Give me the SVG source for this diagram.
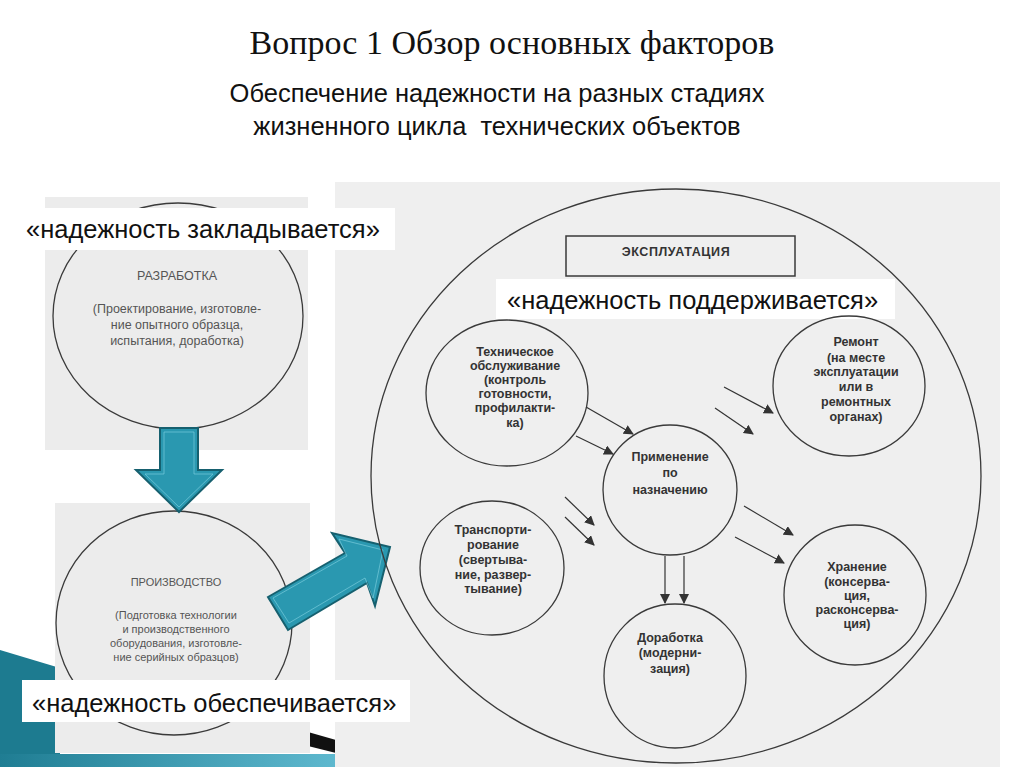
<svg xmlns="http://www.w3.org/2000/svg" width="1024" height="767" viewBox="0 0 1024 767">
<defs>
<style>
.title{font-family:"Liberation Serif","Times New Roman",serif;font-size:34px;fill:#111}
.sub{font-family:"Liberation Sans",Arial,sans-serif;font-size:25.5px;fill:#111}
.lbl{font-family:"Liberation Sans",Arial,sans-serif;font-size:25.5px;fill:#111}
.scan{fill:none;stroke:#3a3a3a;stroke-width:1.3}
.st{font-family:"Liberation Sans",Arial,sans-serif;font-size:12.5px;font-weight:bold;fill:#333;text-anchor:middle}
.lt{font-family:"Liberation Sans",Arial,sans-serif;font-size:12.5px;fill:#555;text-anchor:middle}
.lb{font-family:"Liberation Sans",Arial,sans-serif;font-size:11px;fill:#555;text-anchor:middle}
.con{stroke:#333;stroke-width:1.2;fill:none;marker-end:url(#ah)}
.teal{fill:#2a98b0;stroke:#16606f;stroke-width:2;stroke-linejoin:miter}
.tealin{fill:none;stroke:#7fd0e0;stroke-width:0.8;opacity:0.8}
</style>
<marker id="ah" viewBox="0 0 10 10" refX="9" refY="5" markerWidth="10" markerHeight="10" markerUnits="userSpaceOnUse" orient="auto">
<path d="M0,0 L10,5 L0,10 z" fill="#333"/>
</marker>
<linearGradient id="band" x1="0" y1="0" x2="1" y2="0">
<stop offset="0" stop-color="#1f7d93"/>
<stop offset="1" stop-color="#5fb9cf"/>
</linearGradient>
</defs>
<rect width="1024" height="767" fill="#ffffff"/>
<!-- background decoration -->
<polygon points="0,650 60,668 60,767 0,767" fill="#1d7b90"/>
<rect x="0" y="754" width="340" height="13" fill="url(#band)"/>
<polygon points="308,732 336,740 336,753 308,746" fill="#111"/>
<!-- title -->
<text class="title" x="512" y="54" text-anchor="middle">Вопрос 1 Обзор основных факторов</text>
<text class="sub" x="497" y="102" text-anchor="middle">Обеспечение надежности на разных стадиях</text>
<text class="sub" x="497" y="135" text-anchor="middle" xml:space="preserve">жизненного цикла  технических объектов</text>
<!-- scan backgrounds -->
<rect x="45" y="197" width="263" height="253" fill="#ececec"/>
<rect x="55" y="503" width="255" height="250" fill="#ececec"/>
<rect x="335" y="182" width="665" height="585" fill="#efefef"/>
<!-- Development -->
<g id="razrabotka">
<ellipse class="scan" cx="178" cy="316" rx="125" ry="113"/>
<text class="lt" x="177" y="280">РАЗРАБОТКА</text>
<text class="lt" x="177" y="313">(Проектирование, изготовле-</text>
<text class="lt" x="177" y="329">ние опытного образца,</text>
<text class="lt" x="177" y="345">испытания, доработка)</text>
</g>
<g id="label-zakl">
<rect x="22" y="208" width="373" height="42" fill="#ffffff"/>
<text class="lbl" x="26" y="238">«надежность закладывается»</text>
</g>
<!-- Production -->
<g id="proizvodstvo">
<ellipse class="scan" cx="174" cy="623" rx="118" ry="112"/>
<text class="lb" x="176" y="586">ПРОИЗВОДСТВО</text>
<text class="lb" x="176" y="619">(Подготовка технологии</text>
<text class="lb" x="176" y="633">и производственного</text>
<text class="lb" x="176" y="647">оборудования, изготовле-</text>
<text class="lb" x="176" y="661">ние серийных образцов)</text>
</g>
<g id="label-obesp">
<rect x="22" y="680" width="388" height="42" fill="#ffffff"/>
<text class="lbl" x="32" y="712">«надежность обеспечивается»</text>
</g>
<!-- teal arrows -->
<g id="arrow-down">
<polygon class="teal" points="160,428 198,428 198,470 222,470 179,512 136,470 160,470"/>
<polygon class="tealin" points="164,432 194,432 194,474 213,474 179,507 145,474 164,474"/>
</g>
<g id="arrow-right">
<polygon class="teal" points="268,597 345,553 332,533 390,547 375,606 367,583 288,630"/>
<polygon class="tealin" points="273,598 347,556 339,539 383,550 373,598 365,578 289,623"/>
</g>
<!-- Exploitation -->
<g id="ekspluatatsiya">
<ellipse class="scan" cx="676" cy="476" rx="305" ry="287"/>
<rect x="566" y="236" width="229" height="40" fill="none" stroke="#3a3a3a" stroke-width="1.5"/>
<text class="st" x="676" y="256" font-size="13" letter-spacing="0.6">ЭКСПЛУАТАЦИЯ</text>
</g>
<g id="label-podd">
<rect x="496" y="279" width="399" height="40" fill="#ffffff"/>
<text class="lbl" x="507" y="309">«надежность поддерживается»</text>
</g>
<g id="to">
<ellipse class="scan" cx="507" cy="393" rx="81" ry="73"/>
<text class="st" x="515" y="356">Техническое</text>
<text class="st" x="515" y="370">обслуживание</text>
<text class="st" x="515" y="384">(контроль</text>
<text class="st" x="515" y="398">готовности,</text>
<text class="st" x="515" y="412">профилакти-</text>
<text class="st" x="515" y="427">ка)</text>
</g>
<g id="primenenie">
<ellipse class="scan" cx="670" cy="490" rx="67" ry="65"/>
<text class="st" x="670" y="461">Применение</text>
<text class="st" x="670" y="477">по</text>
<text class="st" x="670" y="494">назначению</text>
</g>
<g id="remont">
<ellipse class="scan" cx="849" cy="386" rx="76" ry="70"/>
<text class="st" x="856" y="346">Ремонт</text>
<text class="st" x="856" y="362">(на месте</text>
<text class="st" x="856" y="376">эксплуатации</text>
<text class="st" x="856" y="391">или в</text>
<text class="st" x="856" y="406">ремонтных</text>
<text class="st" x="856" y="421">органах)</text>
</g>
<g id="transport">
<ellipse class="scan" cx="492" cy="568" rx="72" ry="67"/>
<text class="st" x="493" y="534">Транспорти-</text>
<text class="st" x="493" y="549">рование</text>
<text class="st" x="493" y="564">(свертыва-</text>
<text class="st" x="493" y="579">ние, развер-</text>
<text class="st" x="493" y="593">тывание)</text>
</g>
<g id="hranenie">
<ellipse class="scan" cx="855" cy="595" rx="71" ry="70"/>
<text class="st" x="857" y="571">Хранение</text>
<text class="st" x="857" y="586">(консерва-</text>
<text class="st" x="857" y="600">ция,</text>
<text class="st" x="857" y="614">расконсерва-</text>
<text class="st" x="857" y="628">ция)</text>
</g>
<g id="dorabotka">
<ellipse class="scan" cx="675" cy="676" rx="71" ry="72"/>
<text class="st" x="670" y="642">Доработка</text>
<text class="st" x="670" y="657">(модерни-</text>
<text class="st" x="670" y="673">зация)</text>
</g>
<!-- connectors -->
<g id="connectors">
<line class="con" x1="586" y1="407" x2="633" y2="434"/>
<line class="con" x1="576" y1="436" x2="613" y2="454"/>
<line class="con" x1="724" y1="387" x2="773" y2="413"/>
<line class="con" x1="715" y1="408" x2="753" y2="434"/>
<line class="con" x1="565" y1="497" x2="594" y2="525"/>
<line class="con" x1="565" y1="517" x2="594" y2="545"/>
<line class="con" x1="744" y1="506" x2="793" y2="535"/>
<line class="con" x1="735" y1="537" x2="784" y2="563"/>
<line class="con" x1="665" y1="556" x2="665" y2="603"/>
<line class="con" x1="684" y1="556" x2="684" y2="603"/>
</g>
</svg>
